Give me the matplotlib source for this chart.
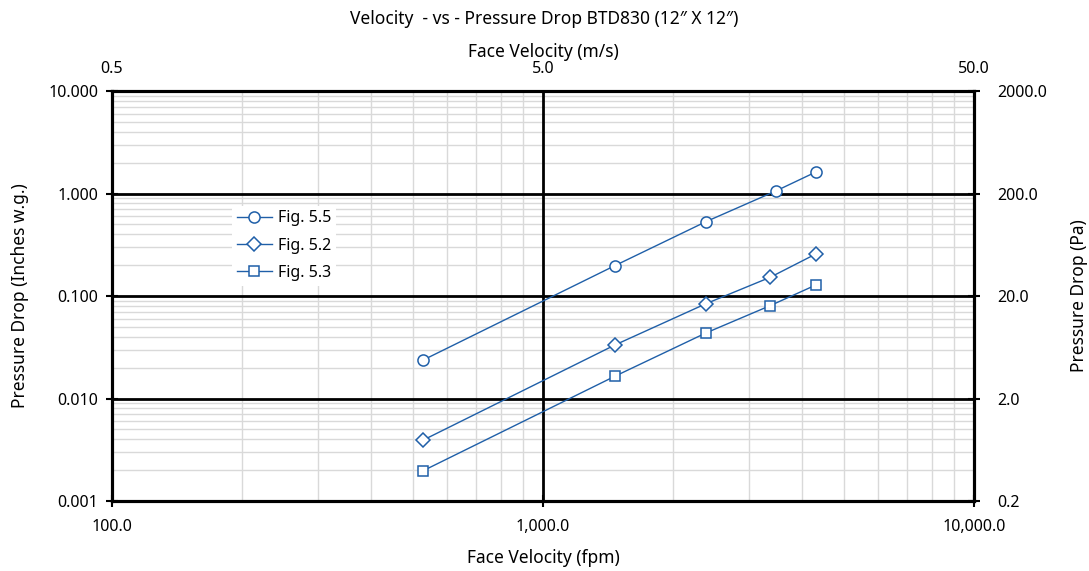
import matplotlib.pyplot as plt
from matplotlib.ticker import FuncFormatter, LogLocator, NullFormatter, NullLocator

plt.rcParams['font.family'] = ['Noto Sans', 'DejaVu Sans']

# данные
vel_fpm = [528, 1469, 2388, 3467, 4295]
vel_fpm_b = [528, 1469, 2388, 3363, 4295]
fig55 = [0.0238, 0.198, 0.531, 1.057, 1.62]
fig52 = [0.00394, 0.0333, 0.0841, 0.152, 0.257]
fig53 = [0.00198, 0.0165, 0.0436, 0.0804, 0.128]

blue = '#1f5fa8'

fig = plt.figure(figsize=(10.89, 5.71), dpi=100)
ax = fig.add_axes([0.1028, 0.1226, 0.7916, 0.718])

ax.set_xscale('log')
ax.set_yscale('log')
ax.set_xlim(100, 10000)
ax.set_ylim(0.001, 10)

ax.plot(vel_fpm, fig55, color=blue, lw=1.0, marker='o', ms=8, mfc='white', mec=blue, mew=1.1, label='Fig. 5.5', zorder=5)
ax.plot(vel_fpm_b, fig52, color=blue, lw=1.0, marker='D', ms=7.5, mfc='white', mec=blue, mew=1.1, label='Fig. 5.2', zorder=5)
ax.plot(vel_fpm_b, fig53, color=blue, lw=1.0, marker='s', ms=7.5, mfc='white', mec=blue, mew=1.1, label='Fig. 5.3', zorder=5)

ax.xaxis.set_major_locator(LogLocator(base=10, numticks=10))
ax.xaxis.set_minor_locator(LogLocator(base=10, subs=range(2, 10), numticks=20))
ax.yaxis.set_major_locator(LogLocator(base=10, numticks=10))
ax.yaxis.set_minor_locator(LogLocator(base=10, subs=range(2, 10), numticks=20))
ax.xaxis.set_minor_formatter(NullFormatter())
ax.yaxis.set_minor_formatter(NullFormatter())
ax.xaxis.set_major_formatter(FuncFormatter(lambda v, p: '{:,.1f}'.format(v)))
ax.yaxis.set_major_formatter(FuncFormatter(lambda v, p: '{:.3f}'.format(v)))

# светлая сетка, затем жирные линии по декадам поверх неё
ax.grid(which='minor', color='#d9d9d9', lw=1.0)
ax.set_axisbelow(True)
for v in [100, 1000, 10000]:
    ax.axvline(v, color='black', lw=2.0, zorder=1.5)
for v in [0.001, 0.01, 0.1, 1, 10]:
    ax.axhline(v, color='black', lw=2.0, zorder=1.5)

ax.tick_params(which='major', direction='inout', length=8, width=1.5, labelsize=11.5)
ax.tick_params(axis='x', pad=9)
ax.tick_params(axis='y', pad=6)
ax.tick_params(which='minor', length=0)
for s in ax.spines.values():
    s.set_linewidth(2.2)

ax.set_xlabel('Face Velocity (fpm)', fontsize=12.5, labelpad=10)
ax.set_ylabel('Pressure Drop (Inches w.g.)', fontsize=12.5, labelpad=14)

# верхняя ось м/с
top = ax.twiny()
top.set_xscale('log')
top.set_xlim(0.5, 50)
top.xaxis.set_major_locator(LogLocator(base=10, subs=[5], numticks=10))
top.xaxis.set_minor_locator(NullLocator())
top.xaxis.set_major_formatter(FuncFormatter(lambda v, p: '{:.1f}'.format(v)))
top.tick_params(which='major', length=0, labelsize=11.5, pad=10)
top.set_xlabel('Face Velocity (m/s)', fontsize=12.5, labelpad=3)

# правая ось Па
right = ax.twinx()
right.set_yscale('log')
right.set_ylim(0.2, 2000)
right.yaxis.set_major_locator(LogLocator(base=10, subs=[2], numticks=10))
right.yaxis.set_minor_locator(NullLocator())
right.yaxis.set_major_formatter(FuncFormatter(lambda v, p: '{:.1f}'.format(v)))
right.tick_params(which='major', direction='inout', length=8, width=1.5, labelsize=11.5, pad=13)
right.set_ylabel('Pressure Drop (Pa)', fontsize=12.5, labelpad=16)
for a in (top, right):
    for s in a.spines.values():
        s.set_linewidth(2.2)

leg = ax.legend(loc='upper left', bbox_to_anchor=(0.13, 0.74), frameon=True, fontsize=11.5,
                handlelength=2.2, handletextpad=0.4, labelspacing=0.7, borderpad=0.3)
leg.get_frame().set_edgecolor('none')
leg.get_frame().set_facecolor('white')
leg.get_frame().set_alpha(1.0)
leg.set_zorder(10)

fig.suptitle('Velocity  - vs - Pressure Drop BTD830 (12″ X 12″)', y=0.983, fontsize=12.5)

fig.savefig('out.png', dpi=100)
